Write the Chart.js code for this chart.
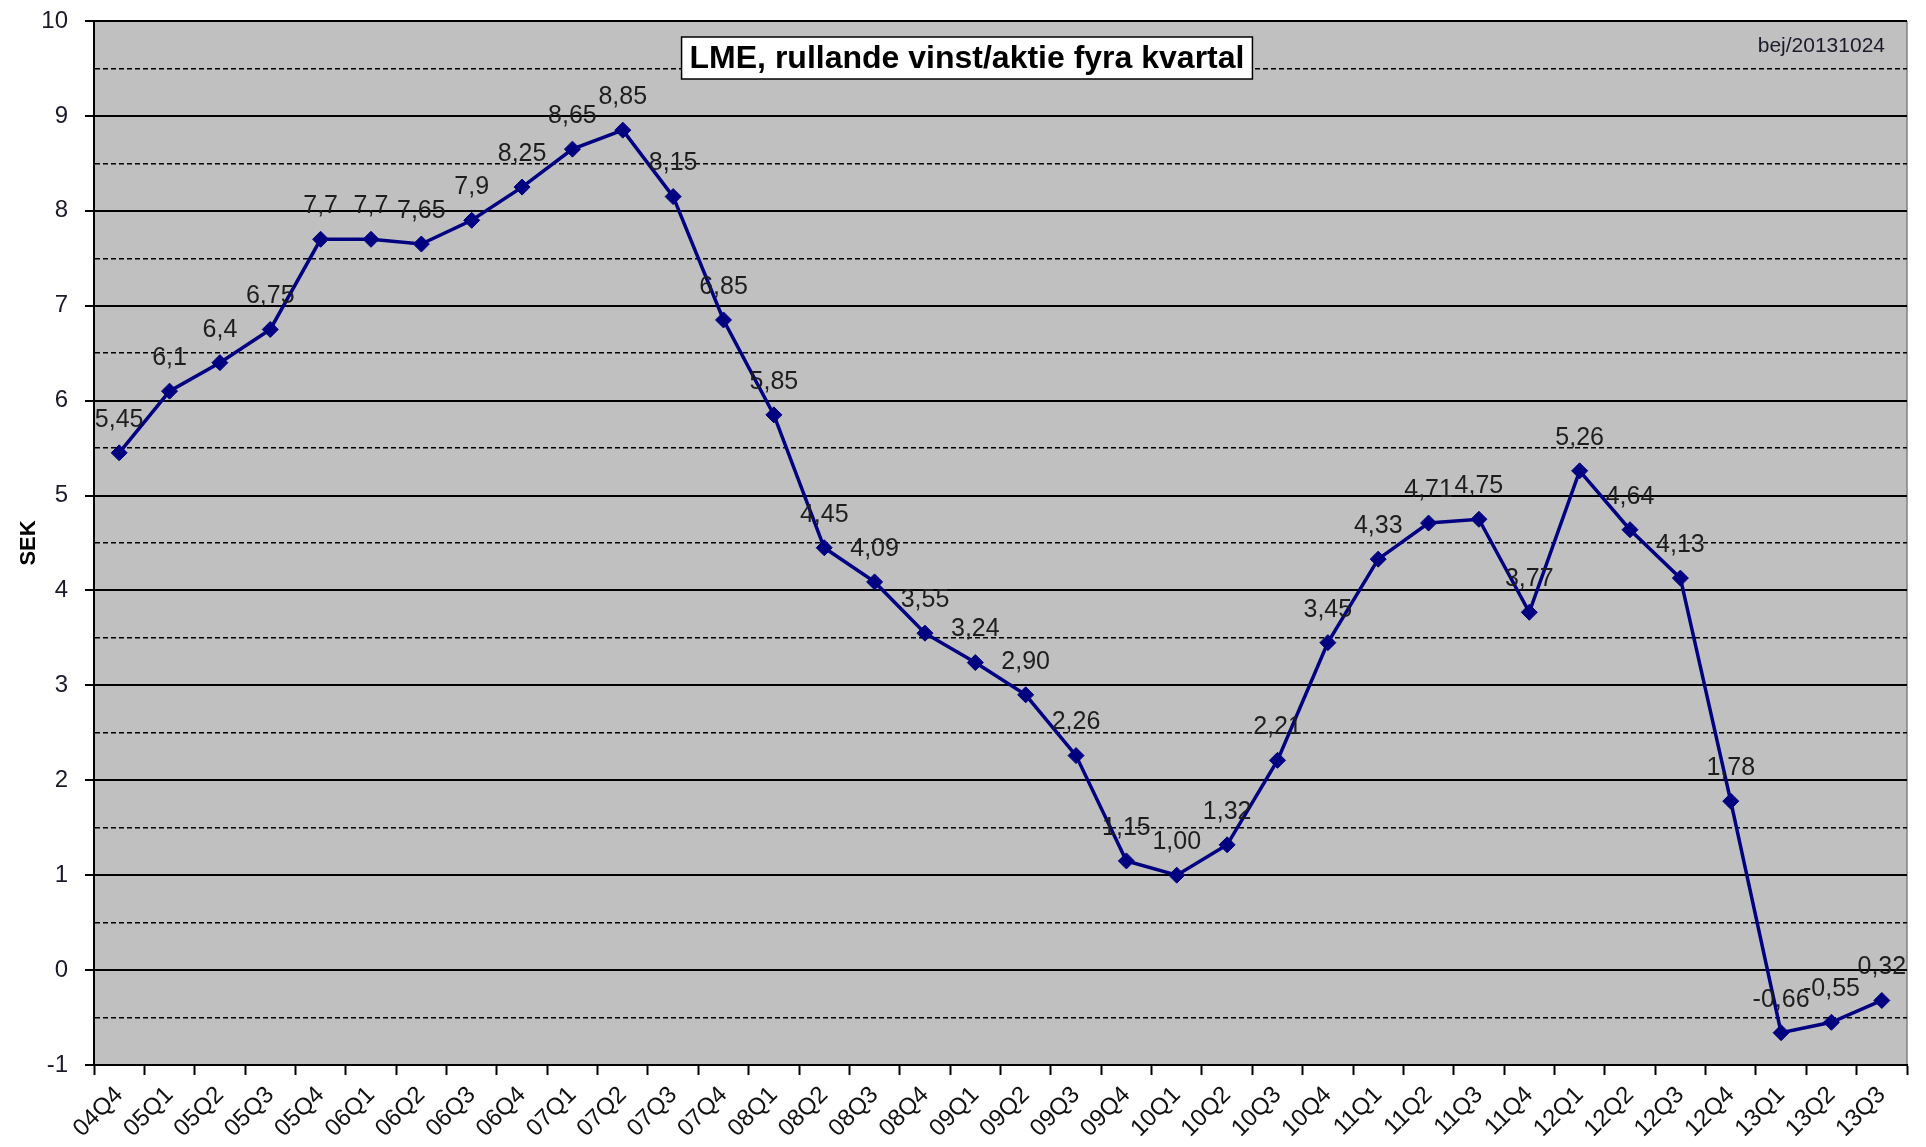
<!DOCTYPE html>
<html lang="sv">

<head>
    <meta charset="UTF-8">
    <title>LME vinst/aktie</title>
    <script src="https://cdn.jsdelivr.net/npm/chart.js"></script>
    <style>
        html, body { margin: 0; padding: 0; background: #fff; }
        #wrap { width: 1926px; height: 1147px; }
    </style>
</head>

<body>
    <div id="wrap"><canvas id="lineChart"></canvas></div>
    <script>
        // data
        const quarters = ['04Q4', '05Q1', '05Q2', '05Q3', '05Q4', '06Q1', '06Q2', '06Q3', '06Q4',
            '07Q1', '07Q2', '07Q3', '07Q4', '08Q1', '08Q2', '08Q3', '08Q4', '09Q1', '09Q2', '09Q3',
            '09Q4', '10Q1', '10Q2', '10Q3', '10Q4', '11Q1', '11Q2', '11Q3', '11Q4', '12Q1', '12Q2',
            '12Q3', '12Q4', '13Q1', '13Q2', '13Q3'];
        const eps = [5.45, 6.1, 6.4, 6.75, 7.7, 7.7, 7.65, 7.9, 8.25,
            8.65, 8.85, 8.15, 6.85, 5.85, 4.45, 4.09, 3.55, 3.24, 2.90, 2.26,
            1.15, 1.00, 1.32, 2.21, 3.45, 4.33, 4.71, 4.75, 3.77, 5.26, 4.64,
            4.13, 1.78, -0.66, -0.55, -0.32];
        const pointLabels = ['5,45', '6,1', '6,4', '6,75', '7,7', '7,7', '7,65', '7,9', '8,25',
            '8,65', '8,85', '8,15', '6,85', '5,85', '4,45', '4,09', '3,55', '3,24', '2,90', '2,26',
            '1,15', '1,00', '1,32', '2,21', '3,45', '4,33', '4,71', '4,75', '3,77', '5,26', '4,64',
            '4,13', '1,78', '-0,66', '-0,55', '0,32'];
        const chartTitle = 'LME, rullande vinst/aktie fyra kvartal';
        const signature = 'bej/20131024';
        const yTitle = 'SEK';
        const yMin = -1, yMax = 10;

        const FONT = "'Liberation Sans', Arial, sans-serif";

        // grey plot area + right border
        const plotBg = {
            id: 'plotBg',
            beforeDraw(chart) {
                const { ctx, chartArea: a } = chart;
                ctx.save();
                ctx.fillStyle = '#c0c0c0';
                ctx.fillRect(a.left, a.top, a.right - a.left, a.bottom - a.top);
                ctx.strokeStyle = '#808080';
                ctx.lineWidth = 1.5;
                ctx.beginPath();
                ctx.moveTo(a.right, a.top);
                ctx.lineTo(a.right, a.bottom);
                ctx.stroke();
                ctx.restore();
            }
        };

        // value labels above each marker
        const valueLabels = {
            id: 'valueLabels',
            afterDatasetsDraw(chart) {
                const { ctx } = chart;
                const meta = chart.getDatasetMeta(0);
                ctx.save();
                ctx.font = '25px ' + FONT;
                ctx.fillStyle = '#1e1e1e';
                ctx.textAlign = 'center';
                ctx.textBaseline = 'middle';
                meta.data.forEach((pt, i) => {
                    ctx.fillText(pointLabels[i], pt.x, pt.y - 33);
                });
                ctx.restore();
            }
        };

        // boxed title and signature
        const boxTitle = {
            id: 'boxTitle',
            afterDraw(chart) {
                const { ctx } = chart;
                ctx.save();
                ctx.font = 'bold 32px ' + FONT;
                const w = ctx.measureText(chartTitle).width;
                const cx = 967, cy = 58;
                ctx.fillStyle = '#fff';
                ctx.fillRect(cx - w / 2 - 8, cy - 21, w + 16, 42);
                ctx.strokeStyle = '#000';
                ctx.lineWidth = 1.5;
                ctx.strokeRect(cx - w / 2 - 8, cy - 21, w + 16, 42);
                ctx.fillStyle = '#000';
                ctx.textAlign = 'center';
                ctx.textBaseline = 'middle';
                ctx.fillText(chartTitle, cx, cy + 1);

                ctx.font = '21px ' + FONT;
                ctx.fillStyle = '#1a1a2a';
                ctx.textAlign = 'right';
                ctx.fillText(signature, 1885, 46);
                ctx.restore();
            }
        };

        const ctx = document.getElementById('lineChart').getContext('2d');
        new Chart(ctx, {
            type: 'line',
            data: {
                labels: quarters,
                datasets: [{
                    data: eps,
                    borderColor: '#000080',
                    backgroundColor: '#000080',
                    borderWidth: 3.5,
                    tension: 0,
                    pointStyle: 'rectRot',
                    pointRadius: 8,
                    pointBorderWidth: 1,
                    clip: false
                }]
            },
            options: {
                responsive: true,
                maintainAspectRatio: false,
                animation: false,
                layout: { padding: { top: 21, right: 19, left: 0, bottom: 0 } },
                plugins: {
                    legend: { display: false },
                    tooltip: { enabled: false }
                },
                scales: {
                    x: {
                        offset: true,
                        grid: {
                            offset: true,
                            drawOnChartArea: false,
                            drawTicks: true,
                            tickLength: 10,
                            tickColor: '#000',
                            tickWidth: 2
                        },
                        border: { color: '#000', width: 2 },
                        ticks: {
                            autoSkip: false,
                            maxRotation: 45,
                            minRotation: 45,
                            padding: 6,
                            color: '#111',
                            font: { family: FONT, size: 24 }
                        },
                        afterFit(scale) {
                            scale.height = 82;
                            scale.paddingLeft = 0;
                            scale.paddingRight = 0;
                        }
                    },
                    y: {
                        min: yMin,
                        max: yMax,
                        grid: {
                            color: '#000',
                            lineWidth: (c) => (c.tick && c.tick.value % 1 !== 0) ? 1.5 : 2,
                            tickLength: 9,
                            tickWidth: 2,
                            tickColor: (c) => (c.tick && c.tick.value % 1 !== 0) ? 'rgba(0,0,0,0)' : '#000'
                        },
                        border: {
                            color: '#000',
                            width: 2,
                            dash: (c) => (c.tick && c.tick.value % 1 !== 0) ? [5, 3] : []
                        },
                        ticks: {
                            stepSize: 0.5,
                            autoSkip: false,
                            padding: 17,
                            color: '#1a1a2a',
                            font: { family: FONT, size: 24 },
                            callback: (v) => (v % 1 === 0) ? String(v) : ''
                        },
                        title: {
                            display: true,
                            text: yTitle,
                            color: '#000',
                            font: { family: FONT, size: 22, weight: 'bold' },
                            padding: { top: 16, bottom: 0 }
                        },
                        afterFit(scale) {
                            scale.width = 94;
                            scale.paddingTop = 0;
                            scale.paddingBottom = 0;
                        }
                    }
                }
            },
            plugins: [plotBg, valueLabels, boxTitle]
        });
    </script>
</body>

</html>
